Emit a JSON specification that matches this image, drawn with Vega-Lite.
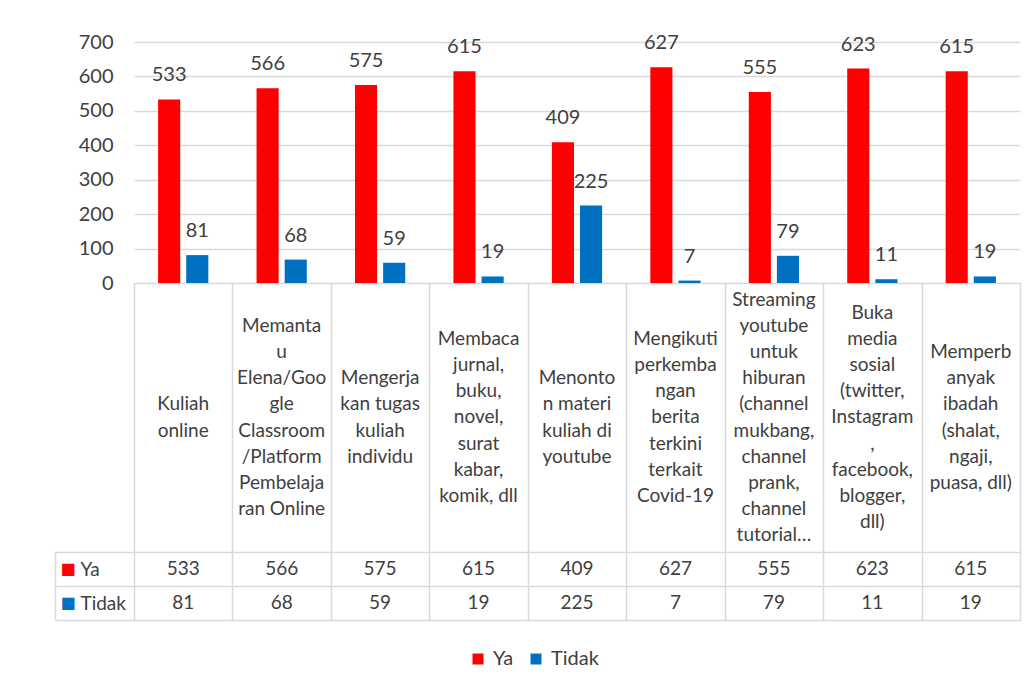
{
  "$schema": "https://vega.github.io/schema/vega-lite/v6.json",
  "autosize": {"type": "pad"},
  "padding": {"left": 53, "top": 32, "right": 10, "bottom": 10},
  "background": "#ffffff",
  "config": {"font": "Lato", "view": {"stroke": "#d9d9d9"}, "concat": {"spacing": 0}},
  "spacing": 0,
  "bounds": "flush",
  "datasets": {
    "nilai": [
      {"kategori": "Kuliah\nonline", "seri": "Ya", "nilai": 533},
      {"kategori": "Memanta\nu\nElena/Goo\ngle\nClassroom\n/Platform\nPembelaja\nran Online", "seri": "Ya", "nilai": 566},
      {"kategori": "Mengerja\nkan tugas\nkuliah\nindividu", "seri": "Ya", "nilai": 575},
      {"kategori": "Membaca\njurnal,\nbuku,\nnovel,\nsurat\nkabar,\nkomik, dll", "seri": "Ya", "nilai": 615},
      {"kategori": "Menonto\nn materi\nkuliah di\nyoutube", "seri": "Ya", "nilai": 409},
      {"kategori": "Mengikuti\nperkemba\nngan\nberita\nterkini\nterkait\nCovid-19", "seri": "Ya", "nilai": 627},
      {"kategori": "Streaming\nyoutube\nuntuk\nhiburan\n(channel\nmukbang,\nchannel\nprank,\nchannel\ntutorial…", "seri": "Ya", "nilai": 555},
      {"kategori": "Buka\nmedia\nsosial\n(twitter,\nInstagram\n,\nfacebook,\nblogger,\ndll)", "seri": "Ya", "nilai": 623},
      {"kategori": "Memperb\nanyak\nibadah\n(shalat,\nngaji,\npuasa, dll)", "seri": "Ya", "nilai": 615},
      {"kategori": "Kuliah\nonline", "seri": "Tidak", "nilai": 81},
      {"kategori": "Memanta\nu\nElena/Goo\ngle\nClassroom\n/Platform\nPembelaja\nran Online", "seri": "Tidak", "nilai": 68},
      {"kategori": "Mengerja\nkan tugas\nkuliah\nindividu", "seri": "Tidak", "nilai": 59},
      {"kategori": "Membaca\njurnal,\nbuku,\nnovel,\nsurat\nkabar,\nkomik, dll", "seri": "Tidak", "nilai": 19},
      {"kategori": "Menonto\nn materi\nkuliah di\nyoutube", "seri": "Tidak", "nilai": 225},
      {"kategori": "Mengikuti\nperkemba\nngan\nberita\nterkini\nterkait\nCovid-19", "seri": "Tidak", "nilai": 7},
      {"kategori": "Streaming\nyoutube\nuntuk\nhiburan\n(channel\nmukbang,\nchannel\nprank,\nchannel\ntutorial…", "seri": "Tidak", "nilai": 79},
      {"kategori": "Buka\nmedia\nsosial\n(twitter,\nInstagram\n,\nfacebook,\nblogger,\ndll)", "seri": "Tidak", "nilai": 11},
      {"kategori": "Memperb\nanyak\nibadah\n(shalat,\nngaji,\npuasa, dll)", "seri": "Tidak", "nilai": 19}
    ]
  },
  "data": {"name": "nilai"},
  "vconcat": [
    {
      "width": 886,
      "height": 241,
      "view": {"stroke": null},
      "encoding": {
        "x": {"field": "kategori", "type": "nominal", "sort": null, "axis": null, "scale": {"paddingInner": 0, "paddingOuter": 0}},
        "xOffset": {"field": "seri", "type": "nominal", "sort": ["Ya", "Tidak"], "scale": {"paddingInner": 0.214, "paddingOuter": 0.857}},
        "y": {
          "field": "nilai", "type": "quantitative",
          "scale": {"domain": [0, 700]},
          "axis": {"title": null, "values": [0, 100, 200, 300, 400, 500, 600, 700], "domain": false, "ticks": false, "grid": true, "gridColor": "#d9d9d9", "gridWidth": 1.5, "labelFontSize": 20, "labelColor": "#404040", "labelPadding": 21}
        }
      },
      "layer": [
        {
          "mark": {"type": "bar"},
          "encoding": {
            "color": {
              "field": "seri", "type": "nominal",
              "scale": {"domain": ["Ya", "Tidak"], "range": ["#ff0000", "#0070c0"]},
              "legend": {"title": null, "orient": "none", "legendX": 334, "legendY": 607, "direction": "horizontal", "symbolType": "square", "symbolSize": 121, "symbolStrokeWidth": 0, "labelFontSize": 20, "labelColor": "#404040", "labelOffset": 5, "columnPadding": 12}
            }
          }
        },
        {
          "mark": {"type": "text", "baseline": "alphabetic", "dy": -18, "fontSize": 20, "color": "#404040"},
          "encoding": {"text": {"field": "nilai", "type": "quantitative"}}
        }
      ]
    },
    {
      "width": 886,
      "height": 269,
      "transform": [{"filter": "datum.seri == 'Ya'"}],
      "mark": {"type": "text", "fontSize": 19, "lineHeight": 26.2, "baseline": "middle", "align": "center", "color": "#404040", "lineBreak": "\n",
        "dy": {"expr": "-(length(split(datum.kategori, '\\n')) - 1) / 2 * 26.2"}},
      "encoding": {
        "x": {"field": "kategori", "type": "nominal", "sort": null, "scale": {"paddingInner": 0, "paddingOuter": 0},
          "axis": {"title": null, "labels": false, "ticks": false, "domain": false, "grid": true, "tickBand": "extent", "gridColor": "#d9d9d9", "gridWidth": 1.5}},
        "text": {"field": "kategori", "type": "nominal"}
      }
    },
    {
      "width": 886,
      "height": 68,
      "layer": [
        {
          "mark": {"type": "text", "fontSize": 19, "color": "#404040"},
          "encoding": {
            "x": {"field": "kategori", "type": "nominal", "sort": null, "scale": {"paddingInner": 0, "paddingOuter": 0},
              "axis": {"title": null, "labels": false, "ticks": false, "domain": false, "grid": true, "tickBand": "extent", "gridColor": "#d9d9d9", "gridWidth": 1.5}},
            "y": {"field": "seri", "type": "nominal", "sort": ["Ya", "Tidak"], "scale": {"paddingInner": 0, "paddingOuter": 0},
              "axis": {"title": null, "domain": false, "ticks": true, "tickSize": 79, "tickBand": "extent", "tickColor": "#d9d9d9", "tickWidth": 1.5, "grid": true, "gridColor": "#d9d9d9", "gridWidth": 1.5, "labelAlign": "left", "labelPadding": -25, "labelFontSize": 19, "labelColor": "#404040"}},
            "text": {"field": "nilai", "type": "quantitative"}
          }
        },
        {
          "mark": {"type": "point", "opacity": 0},
          "encoding": {
            "y": {"field": "seri", "type": "nominal", "sort": ["Ya", "Tidak"], "scale": {"paddingInner": 0, "paddingOuter": 0},
              "axis": {"title": null, "orient": "left", "offset": 79, "domain": true, "domainColor": "#d9d9d9", "domainWidth": 1.5, "ticks": false, "grid": false, "labelExpr": "'■'", "labelFont": "DejaVu Sans", "labelFontSize": 16, "labelAlign": "left", "labelPadding": -5,
                "labelColor": {"condition": {"test": "datum.value === 'Ya'", "value": "#ff0000"}, "value": "#0070c0"}}}
          }
        }
      ],
      "resolve": {"axis": {"y": "independent"}}
    }
  ]
}
